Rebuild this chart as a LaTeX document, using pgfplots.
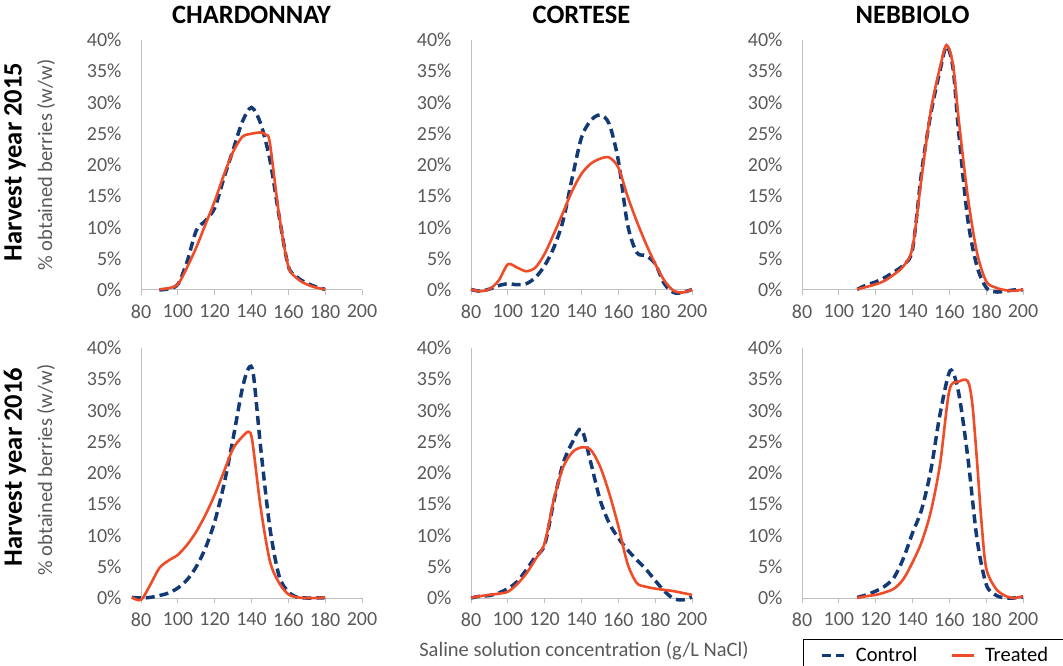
\documentclass[border=0pt]{standalone}
\usepackage{fontspec}
\setmainfont{Carlito}
\usepackage{pgfplots}
\pgfplotsset{compat=1.18}
\definecolor{ctrl}{RGB}{20,58,118}
\definecolor{trt}{RGB}{240,76,40}
\definecolor{tickgray}{RGB}{89,89,89}
\definecolor{axgray}{RGB}{191,191,191}
\begin{document}
\begin{tikzpicture}
\path[use as bounding box] (0pt,0pt) rectangle (1063pt,665pt);
\pgfplotsset{
 panel/.style={
  scale only axis, width=221pt, height=250pt,
  xmin=80, xmax=200, ymin=0, ymax=40,
  axis lines*=left,
  axis line style={axgray, line width=1pt},
  xtick={80,100,...,200}, ytick={0,5,...,40},
  tick align=outside, major tick length=5pt,
  x tick style={axgray, line width=1pt},
  y tick style={draw=none},
  ticklabel style={font=\fontsize{20}{24}\selectfont, text=tickgray},
  /pgf/number format/assume math mode=true,
  yticklabel={\pgfmathprintnumber{\tick}\%},
  yticklabel style={xshift=-11pt},
  xticklabel style={yshift=-6pt},
  clip=false,
  title style={font=\bfseries\fontsize{26.5}{30}\selectfont, at={(0.5,1)}, anchor=base, yshift=10pt},
  legend image code/.code={\draw[##1] (0pt,0pt) -- (22pt,0pt);},
 },
 ctrlstyle/.style={color=ctrl, line width=3.5pt, dash pattern=on 9pt off 5pt, smooth, mark=none},
 trtstyle/.style={color=trt, line width=2.6pt, smooth, mark=none},
}
% Row 1
\begin{axis}[panel, at={(141pt,375pt)}, anchor=south west, title={CHARDONNAY}]
\addplot[ctrlstyle] coordinates {(90,0)(95,0.2)(100,0.9)(105,4.5)(110,9.5)(115,11.1)(120,13.1)(125,17.9)(130,22.4)(135,26.9)(140,29.2)(145,26.6)(150,20.8)(155,11.8)(160,3.8)(165,2)(170,1.1)(175,0.5)(180,0.1)};
\addplot[trtstyle] coordinates {(90,0.1)(95,0.3)(100,0.9)(105,3.6)(110,6.8)(115,10.5)(120,14.2)(125,18.4)(130,22.1)(135,24.5)(140,25)(145,25.2)(148,24.8)(150,23.5)(155,12)(160,3.8)(165,1.8)(170,0.9)(175,0.4)(180,0.1)};
\end{axis}
\begin{axis}[panel, at={(471pt,375pt)}, anchor=south west, title={CORTESE}]
\addplot[ctrlstyle] coordinates {(80,0.1)(85,-0.2)(90,0.15)(95,0.7)(100,1.0)(105,0.85)(110,1.0)(115,2.0)(120,3.9)(125,6.8)(130,11.1)(135,18)(140,24.4)(145,27.1)(150,28)(155,26.6)(160,20.7)(165,10.5)(170,6)(175,5.5)(180,4.2)(185,1)(190,-0.4)(195,-0.4)(200,0.1)};
\addplot[trtstyle] coordinates {(80,0.1)(85,-0.2)(90,0.15)(95,1.5)(100,4.1)(105,3.6)(110,3.0)(115,3.6)(120,5.8)(125,9)(130,12.4)(135,15.9)(140,18.6)(145,20.2)(150,21)(155,21.2)(160,19.6)(165,15)(170,11)(175,7.4)(180,4.2)(185,1.5)(190,-0.1)(195,-0.4)(200,0.1)};
\end{axis}
\begin{axis}[panel, at={(802pt,375pt)}, anchor=south west, title={NEBBIOLO}]
\addplot[ctrlstyle] coordinates {(110,0.1)(115,0.8)(120,1.3)(125,2)(130,2.9)(135,4)(140,6.5)(145,19)(150,28.3)(155,35.2)(158.5,39)(162,35.5)(165,25.5)(170,11.3)(175,3.8)(180,0.4)(185,-0.3)(190,-0.2)(195,0)(200,0)};
\addplot[trtstyle] coordinates {(110,0.1)(115,0.5)(120,0.9)(125,1.5)(130,2.5)(135,3.8)(140,6.8)(145,18.2)(150,28.8)(155,35.7)(158.5,39.2)(162,36)(165,27.5)(170,15)(175,6)(180,1.4)(185,0.4)(190,0)(195,-0.15)(200,0.1)};
\end{axis}
% Row 2
\begin{axis}[panel, at={(141pt,67pt)}, anchor=south west]
\addplot[ctrlstyle] coordinates {(75,0.1)(80,0)(85,0.1)(90,0.4)(95,0.8)(100,1.6)(105,2.9)(110,5)(115,8)(120,12.2)(125,18.1)(130,25.5)(135,33.5)(138.5,36.8)(141,35.8)(145,24)(150,11.2)(155,3.5)(160,1)(165,0.1)(170,0)(175,0)(180,0.05)};
\addplot[trtstyle] coordinates {(75,0.1)(80,-0.3)(85,2.1)(90,4.8)(95,6)(100,6.9)(105,8.5)(110,10.6)(115,13.3)(120,16.5)(125,20.2)(130,23.9)(135,25.8)(138.5,26.6)(140.5,25)(145,14.4)(150,5.9)(155,2.4)(160,0.6)(165,0.1)(170,0)(175,0)(180,0.1)};
\end{axis}
\begin{axis}[panel, at={(471pt,67pt)}, anchor=south west]
\addplot[ctrlstyle] coordinates {(80,0)(85,0.3)(90,0.4)(95,0.8)(100,1.5)(105,2.6)(110,4.5)(115,6.6)(120,8.5)(125,15.5)(130,21.5)(135,24.9)(140,27)(145,21.7)(150,15.8)(155,12)(160,9.6)(165,7.7)(170,6.1)(175,4.6)(180,2.8)(185,1.1)(190,-0.1)(195,-0.3)(200,0.15)};
\addplot[trtstyle] coordinates {(80,0.05)(85,0.3)(90,0.5)(95,0.7)(100,1)(105,2.2)(110,3.9)(115,6.2)(120,8.8)(125,15.8)(130,20.9)(135,23.3)(140,24.1)(145,23.7)(150,21.1)(155,16.8)(160,11.5)(165,5.5)(170,2.4)(175,1.8)(180,1.5)(185,1.3)(190,1.1)(195,0.8)(200,0.5)};
\end{axis}
\begin{axis}[panel, at={(802pt,67pt)}, anchor=south west,
  legend columns=2,
  legend style={at={(0,0)}, anchor=north west, xshift=1pt, yshift=-41pt, draw=black, line width=0.8pt,
    font=\fontsize{20.5}{24}\selectfont, inner xsep=17pt, inner ysep=6pt,
    /tikz/every odd column/.append style={column sep=8pt},
    /tikz/every even column/.append style={column sep=31pt}}]
\addplot[ctrlstyle] coordinates {(110,0.1)(115,0.5)(120,1.1)(125,1.9)(130,3.3)(135,6.3)(140,10.4)(145,14.2)(150,20.5)(155,29.5)(160.5,36.4)(165,32.9)(170,22.6)(175,9.5)(180,2.2)(185,0.5)(190,0)(195,0)(200,0.15)};
\addlegendentry{Control}
\addplot[trtstyle] coordinates {(110,0)(115,0.3)(120,0.5)(125,0.9)(130,1.5)(135,3)(140,5.7)(145,9)(150,13.9)(155,21.5)(160,33.2)(165,34.6)(170,34.7)(172.5,31)(175,22)(177.5,12)(180,4.8)(185,1.6)(190,0.4)(195,0)(200,0.3)};
\addlegendentry{Treated}
\end{axis}
% Labels
\node[rotate=90, font=\bfseries\fontsize{26.5}{30}\selectfont] at (15pt,503pt) {Harvest year 2015};
\node[rotate=90, font=\bfseries\fontsize{26.5}{30}\selectfont] at (15pt,198pt) {Harvest year 2016};
\node[rotate=90, font=\fontsize{20.5}{24}\selectfont, text=tickgray] at (46pt,500pt) {\% obtained berries (w/w)};
\node[rotate=90, font=\fontsize{20.5}{24}\selectfont, text=tickgray] at (46pt,195pt) {\% obtained berries (w/w)};
\node[font=\fontsize{20.5}{24}\selectfont, text=tickgray] at (584pt,14pt) {Saline solution concentration (g/L NaCl)};
\end{tikzpicture}
\end{document}
